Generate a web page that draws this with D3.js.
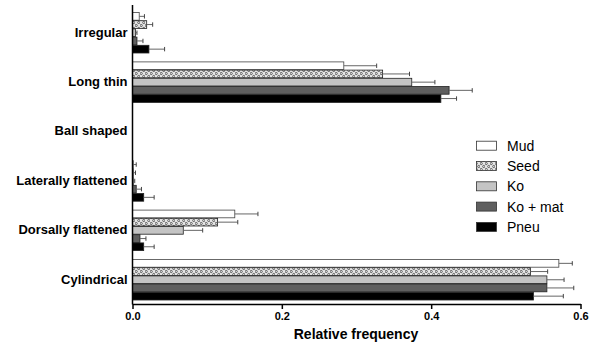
<!DOCTYPE html>
<html><head><meta charset="utf-8">
<script src="https://cdn.jsdelivr.net/npm/d3@7"></script>
<style>
body{margin:0;background:#fff;}
svg text{font-family:"Liberation Sans",Arial,sans-serif;}
</style></head>
<body><svg id="c" width="601" height="346"></svg>
<script>
const categories = ["Irregular","Long thin","Ball shaped","Laterally flattened","Dorsally flattened","Cylindrical"];
const seriesNames = ["Mud","Seed","Ko","Ko + mat","Pneu"];
const mudValues   = [0.009, 0.283, 0, 0.001, 0.137, 0.571];
const mudErr      = [0.007, 0.044, 0, 0.004, 0.031, 0.018];
const seedValues  = [0.019, 0.335, 0, 0.001, 0.114, 0.533];
const seedErr     = [0.008, 0.036, 0, 0.003, 0.027, 0.023];
const koValues    = [0.004, 0.374, 0, 0.001, 0.068, 0.555];
const koErr       = [0.002, 0.031, 0, 0.002, 0.026, 0.023];
const komatValues = [0.006, 0.424, 0, 0.005, 0.010, 0.555];
const komatErr    = [0.008, 0.031, 0, 0.007, 0.008, 0.036];
const pneuValues  = [0.022, 0.413, 0, 0.015, 0.015, 0.537];
const pneuErr     = [0.021, 0.021, 0, 0.014, 0.014, 0.040];
const xTicks = [0, 0.2, 0.4, 0.6];

const values = [mudValues, seedValues, koValues, komatValues, pneuValues];
const errs = [mudErr, seedErr, koErr, komatErr, pneuErr];
const fills = ["#ffffff","url(#seedPat)","#c4c4c4","#5f5f5f","#000000"];

const svg = d3.select("#c");
const defs = svg.append("defs");
const pat = defs.append("pattern").attr("id","seedPat").attr("patternUnits","userSpaceOnUse")
  .attr("width",5).attr("height",6);
pat.append("rect").attr("width",5).attr("height",6).attr("fill","#e4e4e4");
pat.append("circle").attr("cx",1.25).attr("cy",1.5).attr("r",1.1).attr("fill","none").attr("stroke","#444").attr("stroke-width",0.8);
pat.append("circle").attr("cx",3.75).attr("cy",4.5).attr("r",1.1).attr("fill","none").attr("stroke","#444").attr("stroke-width",0.8);

const x = d3.scaleLinear().domain([0,0.6]).range([132.5,580.5]);
const y = d3.scaleBand().domain(categories).range([7.8,304.2]).paddingInner(0.17).paddingOuter(0.085);
const ys = d3.scaleBand().domain(seriesNames).range([0,y.bandwidth()]);

const g = svg.append("g");
categories.forEach((c,ci)=>{
  seriesNames.forEach((s,si)=>{
    const v = values[si][ci], e = errs[si][ci];
    const y0 = y(c)+ys(s), h = ys.bandwidth();
    if (v>0) {
      g.append("rect").attr("x",x(0)).attr("y",y0+0.5).attr("width",x(v)-x(0)).attr("height",h-0.5)
        .attr("fill",fills[si]).attr("stroke",si===0?"#444":"#222").attr("stroke-width",0.8);
    }
    if (e>0) {
      const cy = y0+h/2+0.25;
      g.append("line").attr("x1",x(v)).attr("x2",x(v+e)).attr("y1",cy).attr("y2",cy)
        .attr("stroke","#666").attr("stroke-width",1);
      g.append("line").attr("x1",x(v+e)).attr("x2",x(v+e)).attr("y1",cy-2.2).attr("y2",cy+2.2)
        .attr("stroke","#444").attr("stroke-width",1);
    }
  });
});

// y axis
const ya = svg.append("g").attr("transform",`translate(${x(0)},0)`)
  .call(d3.axisLeft(y).tickSize(0).tickPadding(5));
ya.select(".domain").remove();
ya.selectAll("text").attr("font-size",13).attr("font-weight","bold").attr("fill","#000")
  .style("font-family","'Liberation Sans',Arial,sans-serif");
svg.append("line").attr("x1",x(0)).attr("x2",x(0)).attr("y1",5).attr("y2",304.5)
  .attr("stroke","#000").attr("stroke-width",1.5);

// x axis
const xa = svg.append("g").attr("transform","translate(0,304)")
  .call(d3.axisBottom(x).tickValues(xTicks).tickFormat(d3.format(".1f")).tickSize(5).tickPadding(3).tickSizeOuter(0));
xa.select(".domain").attr("stroke","#000").attr("stroke-width",1.5);
xa.selectAll(".tick line").attr("stroke","#000").attr("stroke-width",1.5);
xa.selectAll("text").attr("font-size",11).attr("font-weight","bold").attr("fill","#000")
  .style("font-family","'Liberation Sans',Arial,sans-serif");

svg.append("text").attr("x",356).attr("y",339).attr("text-anchor","middle")
  .attr("font-size",14).attr("font-weight","bold").text("Relative frequency");

// legend
const lg = svg.append("g");
seriesNames.forEach((s,i)=>{
  const cy = 145.7 + i*20.3;
  lg.append("rect").attr("x",476.5).attr("y",cy-4.5).attr("width",20).attr("height",9)
    .attr("fill",fills[i]).attr("stroke","#333").attr("stroke-width",0.8);
  lg.append("text").attr("x",507).attr("y",cy+5).attr("font-size",14).text(s);
});
</script></body></html>
